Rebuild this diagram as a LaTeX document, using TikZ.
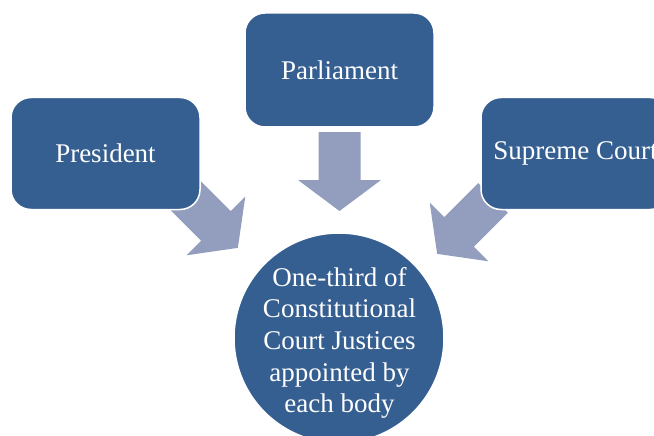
\documentclass[tikz,border=0pt]{standalone}
\usepackage{fontspec}
\setmainfont{Liberation Serif}
\definecolor{boxblue}{HTML}{365F91}
\definecolor{arrowblue}{HTML}{939EBE}
\begin{document}
\begin{tikzpicture}[x=1pt,y=-1pt,
  blockbox/.style={draw=white, line width=1.5pt, fill=boxblue, rounded corners=20pt,
    minimum width=189pt, minimum height=112pt, text=white, inner sep=0pt,
    font=\fontsize{27}{32}\selectfont},
  roundbox/.style={circle, draw=white, line width=1.5pt, fill=boxblue, minimum size=210pt,
    inner sep=0pt},
  roundtext/.style={text=white, inner sep=0pt, align=center, font=\fontsize{27}{31.7}\selectfont},
  blockarrow/.style={fill=arrowblue, draw=none}]
\useasboundingbox (0,0) rectangle (654,436);
% arrow tails
\coordinate (tp) at (182,192);
\coordinate (tq) at (339.5,132);
\coordinate (ts) at (493,198);
\foreach \c/\a in {tp/-45, tq/-90, ts/-135}{
  \fill[blockarrow, shift={(\c)}, rotate=\a]
    (0,-21) -- (48,-21) -- (48,-41.5) -- (79,0) -- (48,41.5) -- (48,21) -- (0,21) -- cycle;
}
\node[blockbox] (pres) at (105.5,153.5) {President};
\node[blockbox, minimum height=114pt] (parl) at (339.5,70) {Parliament};
\node[blockbox] (sup) at (575.5,153.5) {Supreme Court};
\node[roundbox] (court) at (339,338) {};
\node[roundtext] (courttext) at (339.5,343) {One-third of\\Constitutional\\Court Justices\\appointed by\\each body};
\end{tikzpicture}
\end{document}
